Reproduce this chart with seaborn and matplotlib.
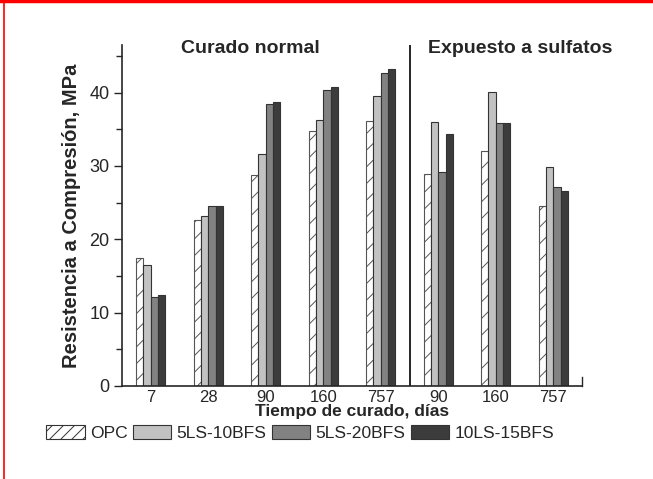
import numpy as np
import pandas as pd
import matplotlib
matplotlib.use("Agg")
import matplotlib.pyplot as plt
from matplotlib.ticker import MultipleLocator
from matplotlib.patches import Patch
from matplotlib.lines import Line2D
import seaborn as sns

# ---- data ----
groups = ["N7", "N28", "N90", "N160", "N757", "S90", "S160", "S757"]
tick_labels = ["7", "28", "90", "160", "757", "90", "160", "757"]
series = ["OPC", "5LS-10BFS", "5LS-20BFS", "10LS-15BFS"]
opc = [17.4, 22.6, 28.8, 34.8, 36.2, 28.9, 32.1, 24.5]
ls5_bfs10 = [16.5, 23.2, 31.7, 36.3, 39.5, 36.0, 40.1, 29.8]
ls5_bfs20 = [12.1, 24.6, 38.5, 40.4, 42.7, 29.2, 35.8, 27.1]
ls10_bfs15 = [12.4, 24.6, 38.7, 40.8, 43.2, 34.4, 35.9, 26.6]
colors = ["#ffffff", "#c2c2c2", "#828282", "#3c3c3c"]

values = [opc, ls5_bfs10, ls5_bfs20, ls10_bfs15]
df = pd.DataFrame({
    "grupo": groups * len(series),
    "serie": np.repeat(series, len(groups)),
    "valor": np.concatenate(values),
})

sns.set_style("ticks")
plt.rcParams["font.family"] = ["Liberation Sans", "DejaVu Sans"]
plt.rcParams["hatch.linewidth"] = 0.7
plt.rcParams["hatch.color"] = "#555555"

fig = plt.figure(figsize=(6.53, 4.79), dpi=100)
ax = fig.add_axes([122 / 653, 1 - 386 / 479, (582 - 122) / 653, (386 - 45) / 479])

sns.barplot(data=df, x="grupo", y="valor", hue="serie", order=groups,
            hue_order=series, palette=colors, width=0.51, gap=0,
            edgecolor="#333333", linewidth=0.8, ax=ax, legend=False)

for bar in ax.containers[0]:
    bar.set_hatch("//")
    bar.set_edgecolor("#555555")

ax.set_xlim(-0.5, len(groups) - 0.5)
ax.set_ylim(0, 46.5)
ax.yaxis.set_major_locator(MultipleLocator(10))
ax.yaxis.set_minor_locator(MultipleLocator(5))
ax.tick_params(axis="y", which="major", direction="out", length=6, width=1,
               labelsize=13, pad=3)
ax.tick_params(axis="y", which="minor", direction="out", length=4, width=1)
ax.set_xticks(range(len(groups)))
ax.set_xticklabels(tick_labels)
ax.tick_params(axis="x", length=0, labelsize=12, pad=3)

for s in ["left", "bottom"]:
    ax.spines[s].set_linewidth(1.2)
ax.spines["top"].set_visible(False)
ax.spines["right"].set_linewidth(1.0)
ax.spines["right"].set_bounds(0, 1.2)

ax.axvline(4.5, color="black", linewidth=1.2)

ax.set_xlabel("Tiempo de curado, días", fontsize=12.5, fontweight="bold", labelpad=-1)
ax.set_ylabel("Resistencia a Compresión, MPa", fontsize=14.5, fontweight="bold",
              labelpad=6)

ax.text(1.73, 0.99, "Curado normal", transform=ax.get_xaxis_transform(),
        ha="center", va="center", fontsize=14, fontweight="bold")
ax.text(6.43, 0.99, "Expuesto a sulfatos", transform=ax.get_xaxis_transform(),
        ha="center", va="center", fontsize=14, fontweight="bold")

handles = [Patch(facecolor=colors[0], edgecolor="#333333", hatch="///", linewidth=0.8)]
handles += [Patch(facecolor=c, edgecolor="#333333", linewidth=0.8) for c in colors[1:]]
fig.legend(handles, series, loc="center", bbox_to_anchor=(300 / 653, 1 - 433 / 479),
           ncol=4, frameon=False, fontsize=12.6, handlelength=2.2,
           handleheight=0.85, handletextpad=0.3, columnspacing=0.3,
           borderpad=0, borderaxespad=0)

# crop-frame decoration (red edges of the reference image)
fig.add_artist(Line2D([0, 1], [0.997, 0.997], transform=fig.transFigure,
                      color="red", linewidth=2.5))
fig.add_artist(Line2D([3.5 / 653, 3.5 / 653], [0, 1], transform=fig.transFigure,
                      color="red", linewidth=1.2))

fig.savefig("out.png", dpi=100)
